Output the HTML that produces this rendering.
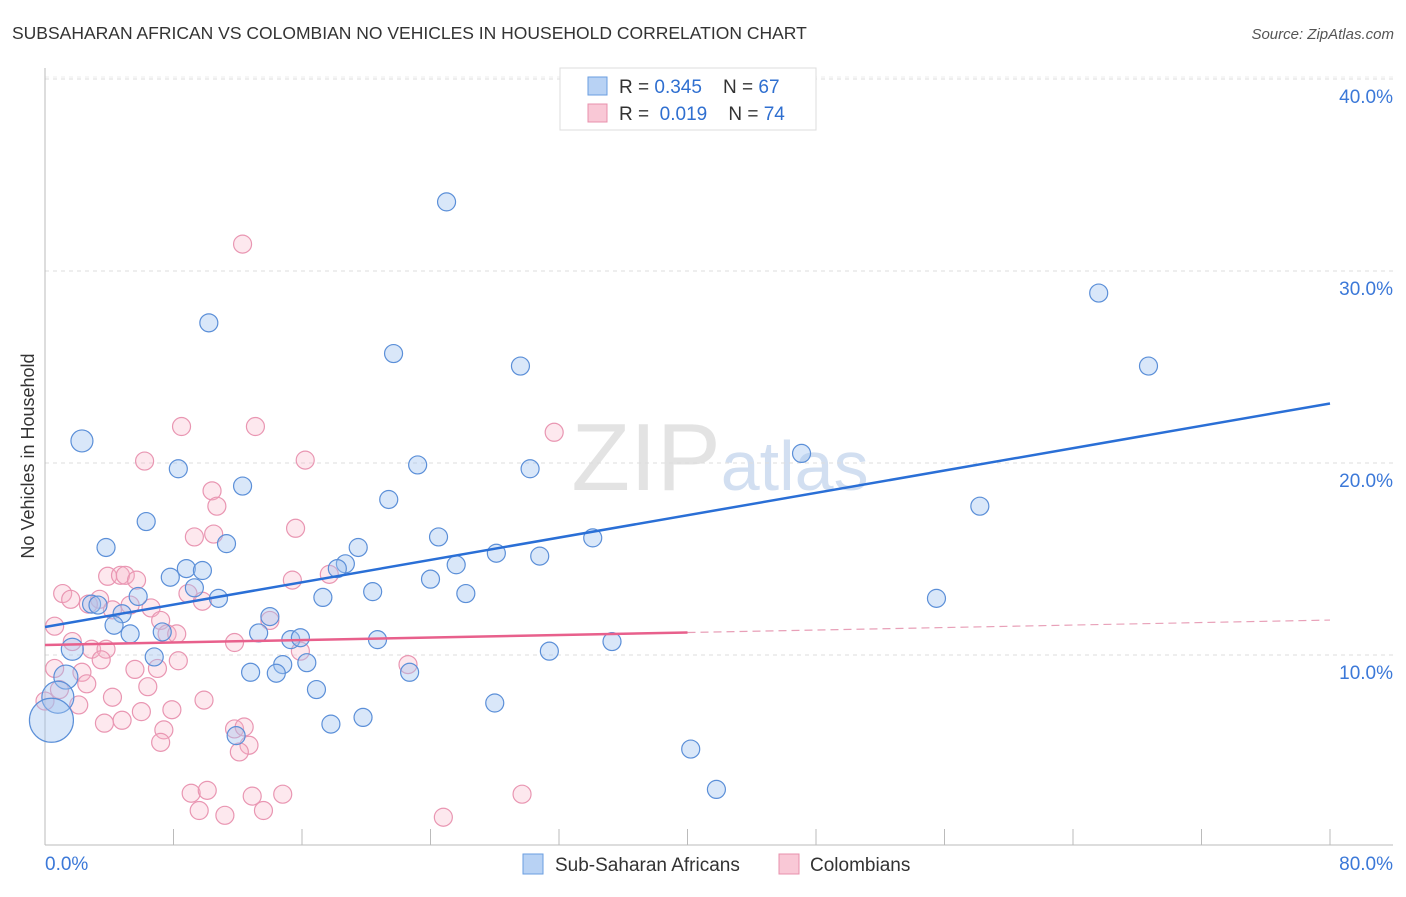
<!DOCTYPE html>
<html><head><meta charset="utf-8"><style>
body{margin:0;background:#fff;font-family:"Liberation Sans",sans-serif;}
svg text{font-family:"Liberation Sans",sans-serif;}
</style></head><body>
<svg id="chart" width="1406" height="892" xmlns="http://www.w3.org/2000/svg">
<text x="12" y="39" font-size="17.5" fill="#333">SUBSAHARAN AFRICAN VS COLOMBIAN NO VEHICLES IN HOUSEHOLD CORRELATION CHART</text>
<text x="1394" y="39" font-size="15" fill="#555" text-anchor="end" font-style="italic">Source: ZipAtlas.com</text>
<text x="720" y="490" font-size="96" fill="#ddd" text-anchor="middle" font-family="Liberation Serif" opacity="0.8">ZIP<tspan fill="#c8d8ee" font-family="Liberation Sans" font-size="70">atlas</tspan></text>
<g id="grid"></g>
<g id="axes"></g>
<g id="marks"></g>
<text transform="translate(34,456) rotate(-90)" font-size="18" fill="#333" text-anchor="middle">No Vehicles in Household</text>
<g>
<rect x="560" y="68" width="256" height="62" fill="#fff" stroke="#ddd"/>
<rect x="588" y="77" width="19" height="18" fill="#b8d2f4" stroke="#6a9ee0"/>
<rect x="588" y="104" width="19" height="18" fill="#f9c8d6" stroke="#e890ac"/>
<text x="619" y="93" font-size="19" fill="#333">R = <tspan fill="#2f6fd0">0.345</tspan>&#160;&#160;&#160; N = <tspan fill="#2f6fd0">67</tspan></text>
<text x="619" y="120" font-size="19" fill="#333">R = &#160;<tspan fill="#2f6fd0">0.019</tspan>&#160;&#160;&#160; N = <tspan fill="#2f6fd0">74</tspan></text>
</g>
<g>
<rect x="523" y="854" width="20" height="20" fill="#b8d2f4" stroke="#6a9ee0"/>
<text x="555" y="871" font-size="19" fill="#333">Sub-Saharan Africans</text>
<rect x="779" y="854" width="20" height="20" fill="#f9c8d6" stroke="#e890ac"/>
<text x="810" y="871" font-size="19" fill="#333">Colombians</text>
</g>
</svg>
<script>
const xTicks=[0,8,16,24,32,40,48,56,64,72,80];
const yTicks=[10,20,30,40];
const blueX=[40.6,25.0,65.6,10.2,21.7,29.6,68.7,2.3,47.1,8.3,23.2,30.2,12.3,21.4,58.2,6.3,24.5,34.1,3.8,11.3,19.5,28.1,30.8,18.7,8.8,9.8,18.2,7.8,25.6,24.0,9.3,20.4,26.2,17.3,5.8,10.8,55.5,2.9,3.3,14.0,4.8,4.3,7.3,5.3,13.3,15.3,15.9,20.7,35.3,1.7,31.4,6.8,14.8,16.3,12.8,14.4,22.7,16.9,1.3,28.0,0.8,17.8,19.8,0.4,11.9,40.2,41.8];
const blueY=[37.96,33.6,28.85,27.3,25.7,25.05,25.05,21.15,20.5,19.7,19.9,19.7,18.8,18.1,17.75,16.95,16.15,16.1,15.6,15.8,15.6,15.3,15.15,14.75,14.5,14.4,14.5,14.05,14.7,13.95,13.5,13.3,13.2,13.0,13.05,12.95,12.95,12.65,12.6,12.0,12.15,11.55,11.2,11.1,11.15,10.8,10.9,10.8,10.7,10.3,10.2,9.9,9.5,9.6,9.1,9.05,9.1,8.2,8.85,7.5,7.8,6.4,6.75,6.6,5.8,5.1,3.0];
const blueR=[9,9,9,9,9,9,9,11,9,9,9,9,9,9,9,9,9,9,9,9,9,9,9,9,9,9,9,9,9,9,9,9,9,9,9,9,9,9,9,9,9,9,9,9,9,9,9,9,9,11,9,9,9,9,9,9,9,9,12,9,16,9,9,22,9,9,9];
const pinkX=[12.3,8.5,13.1,31.7,6.2,16.2,10.4,10.7,15.6,10.5,9.3,3.9,4.7,5.0,5.7,15.4,17.7,1.1,1.6,3.4,8.9,9.8,2.7,5.3,6.6,4.2,14.0,7.2,0.6,7.6,8.2,11.8,1.7,2.9,3.8,15.9,8.3,3.5,7.0,5.6,0.6,2.3,22.6,2.6,6.4,0.9,4.2,9.9,2.1,7.9,6.0,3.7,4.8,11.8,12.4,7.4,12.7,12.1,7.2,9.1,10.1,12.9,14.8,29.7,9.6,11.2,13.6,24.8,0.0];
const pinkY=[31.4,21.9,21.9,21.6,20.1,20.15,18.55,17.75,16.6,16.3,16.15,14.1,14.15,14.15,13.9,13.9,14.2,13.2,12.9,12.9,13.2,12.8,12.65,12.6,12.45,12.35,11.8,11.8,11.5,11.1,11.1,10.65,10.7,10.3,10.3,10.2,9.7,9.75,9.3,9.25,9.3,9.1,9.5,8.5,8.35,8.2,7.8,7.65,7.4,7.15,7.05,6.45,6.6,6.15,6.25,6.1,5.3,4.95,5.45,2.8,2.95,2.65,2.75,2.75,1.9,1.65,1.9,1.55,7.6];
const blueLine=[11.46,23.1];
const pinkLine=[10.52,11.82];
const pinkSolidEnd=40;
const X=v=>45+v/80*1285;
const Y=v=>847-v*19.2;
const NS="http://www.w3.org/2000/svg";
function mk(tag,attrs,parent){const e=document.createElementNS(NS,tag);for(const k in attrs)e.setAttribute(k,attrs[k]);parent.appendChild(e);return e;}
const grid=document.getElementById('grid'),axes=document.getElementById('axes'),marks=document.getElementById('marks');
yTicks.forEach(t=>{
 const l=mk('line',{x1:45,x2:1393,y1:Y(t),y2:Y(t),stroke:'#ddd','stroke-dasharray':'4,4'},grid);
 
 
 const tx=mk('text',{x:1393,y:Y(t)+24,'font-size':19,fill:'#3b78d8','text-anchor':'end'},axes);
 tx.textContent=t.toFixed(1)+'%';
 
 
});
const gl=mk('line',{x1:45,x2:1393,y1:Y(40)-2,y2:Y(40)-2,stroke:'#eee','stroke-dasharray':'4,4'},grid);


const ya=mk('line',{x1:45,x2:45,y1:68,y2:845,stroke:'#bbb'},axes);


const xa=mk('line',{x1:45,x2:1393,y1:845,y2:845,stroke:'#bbb'},axes);


xTicks.forEach(t=>{
 const l=mk('line',{x1:X(t),x2:X(t),y1:829,y2:845,stroke:'#bbb'},axes);
 
 
});
[[0,'start'],[80,'end']].forEach(([t,a])=>{
 const tx=mk('text',{x:t===0?45:1393,y:870,'font-size':19,fill:'#3b78d8','text-anchor':a},axes);
 tx.textContent=t.toFixed(1)+'%';
 
 
});
pinkX.forEach((x,i)=>{
 const c=mk('circle',{cx:X(x),cy:Y(pinkY[i]),r:9,fill:'rgba(248,180,200,0.3)',stroke:'#e996b2','stroke-width':1.2},marks);
 
 
});
blueX.forEach((x,i)=>{
 const c=mk('circle',{cx:X(x),cy:Y(blueY[i]),r:blueR[i],fill:'rgba(160,196,240,0.4)',stroke:'#5b8fd8','stroke-width':1.2},marks);
 
 
});
const bl=mk('line',{x1:X(0),y1:Y(blueLine[0]),x2:X(80),y2:Y(blueLine[1]),stroke:'#2a6fd6','stroke-width':2.5},marks);


const pm=pinkLine[0]+(pinkLine[1]-pinkLine[0])*pinkSolidEnd/80;
const pl=mk('line',{x1:X(0),y1:Y(pinkLine[0]),x2:X(pinkSolidEnd),y2:Y(pm),stroke:'#e8608c','stroke-width':2.5},marks);


const pd=mk('line',{x1:X(pinkSolidEnd),y1:Y(pm),x2:X(80),y2:Y(pinkLine[1]),stroke:'#e8a0b8','stroke-width':1.2,'stroke-dasharray':'8,5'},marks);


</script>
</body></html>
